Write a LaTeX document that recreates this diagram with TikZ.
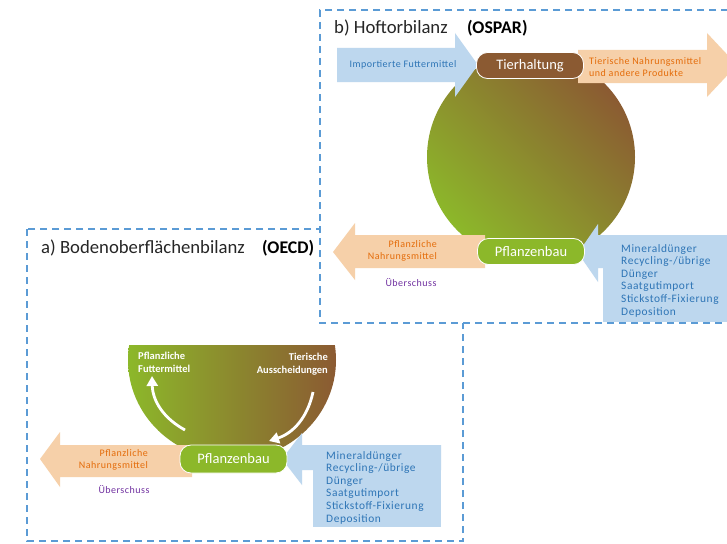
\documentclass[tikz,border=0pt]{standalone}
\usepackage{fontspec}
\setmainfont{Carlito}
\newfontfamily\spaced[LetterSpace=5]{Carlito}
\usetikzlibrary{arrows.meta}
\definecolor{grn}{HTML}{8CB82A}
\definecolor{brn}{HTML}{8B5A32}
\definecolor{lblue}{HTML}{BDD7EE}
\definecolor{peach}{HTML}{F6D0A9}
\definecolor{otext}{HTML}{E46C0A}
\definecolor{btext}{HTML}{2E75B6}
\definecolor{ptext}{HTML}{7030A0}
\definecolor{dashc}{HTML}{5B9BD5}
\tikzset{
  dashbox/.style={draw=dashc, line width=1.6pt, dash pattern=on 7pt off 5pt},
  pill/.style={rounded corners=11pt, draw=white, line width=0.8pt, minimum width=107pt, minimum height=26pt, text=white, font=\fontsize{14.5}{16}\selectfont, inner sep=0pt},
  ttl/.style={anchor=west, font=\fontsize{18.7}{21}\selectfont, text=black!85, inner sep=0pt},
  ttlb/.style={anchor=west, font=\bfseries\fontsize{17.8}{20}\selectfont, inner sep=0pt},
  arrtxt/.style={font=\spaced\fontsize{10}{12}\selectfont, text=otext, inner sep=0pt},
  listtxt/.style={anchor=north west, align=left, font=\spaced\fontsize{11.4}{12.6}\selectfont, text=btext, inner sep=0pt},
  bowltxt/.style={font=\bfseries\fontsize{10.5}{12.5}\selectfont, text=white, inner sep=0pt},
  curv/.style={draw=white, line width=2.8pt, -{Triangle[length=10pt,width=11pt]}},
  surplus/.style={font=\spaced\fontsize{10}{12}\selectfont, text=ptext, inner sep=0pt}
}
\begin{document}
\begin{tikzpicture}[x=1pt,y=-1pt]
\useasboundingbox[fill=white] (0,0) rectangle (727,543);

% ---------------- box a ----------------
\draw[dashbox] (27,229) rectangle (463,541);
\node[ttl] (ta) at (41,248) {a) Bodenoberflächenbilanz};
\node[ttlb] (tao) at (262,248) {(OECD)};

\begin{scope}
  \clip (120,345) rectangle (345,480);
  \shade[left color=grn, right color=brn] (232,360) ellipse[x radius=104, y radius=100];
\end{scope}

\node[bowltxt, anchor=north west, align=left] (pf) at (138,352) {Pflanzliche\\Futtermittel};
\node[bowltxt, anchor=north east, align=right] (ta2) at (328,353) {Tierische\\Ausscheidungen};

\coordinate (la1) at (185,430);
\coordinate (la2) at (152,376);
\coordinate (ra1) at (313,392);
\coordinate (ra2) at (269,441);
\draw[curv] (la1) to[bend left=30] (la2);
\draw[curv] (ra1) to[bend left=30] (ra2);

% orange arrow a
\fill[peach] (192,445) -- (60,445) -- (60,432) -- (40,459) -- (60,487) -- (60,477) -- (192,477) -- cycle;
\node[arrtxt, anchor=east, align=right] (pna) at (148,460) {Pflanzliche\\Nahrungsmittel};
\node[surplus] (ua) at (124,490) {Überschuss};

% blue arrow a
\fill[lblue] (441,445) -- (302,445) -- (302,433) -- (282,459) -- (302,485) -- (302,470) -- (441,470) -- cycle;
\fill[lblue] (313,445) rectangle (441,527);
\node[listtxt] (la) at (326,451) {Mineraldünger\\Recycling-/übrige\\Dünger\\Saatgutimport\\Stickstoff-Fixierung\\Deposition};

\node[pill, fill=grn, minimum height=28pt] (pba) at (233.5,459) {Pflanzenbau};

% ---------------- box b ----------------
\fill[white] (320,10) rectangle (740,323);
\draw[dashbox] (740,10) -- (320,10) -- (320,323) -- (740,323);
\node[ttl] (tb) at (334,28) {b) Hoftorbilanz};
\node[ttlb] (tbo) at (467,28) {(OSPAR)};

\shade[top color=brn, bottom color=grn, shading angle=-45] (531,157) circle[radius=104pt];

% blue import arrow
\fill[lblue] (337,48) -- (455,48) -- (455,33) -- (478,65) -- (455,97) -- (455,82) -- (337,82) -- cycle;
\node[arrtxt, text=btext] (imp) at (403,65) {Importierte Futtermittel};

% orange export arrow
\fill[peach] (578,50) -- (707,50) -- (707,33) -- (737,65) -- (707,97) -- (707,83) -- (578,83) -- cycle;
\node[arrtxt, anchor=west, align=left] (exp) at (589,67) {Tierische Nahrungsmittel\\und andere Produkte};

% orange left arrow b
\fill[peach] (485,235) -- (355,235) -- (355,223) -- (333,252) -- (355,280) -- (355,268) -- (485,268) -- cycle;
\node[arrtxt, anchor=east, align=right] (pnb) at (437,251) {Pflanzliche\\Nahrungsmittel};
\node[surplus] (ub) at (411,283) {Überschuss};

% blue right block b
\fill[lblue] (740,235) -- (598,235) -- (598,224) -- (578,253) -- (598,282) -- (598,268) -- (740,268) -- cycle;
\fill[lblue] (603,235) rectangle (740,322);
\node[listtxt] (lb) at (621,244) {Mineraldünger\\Recycling-/übrige\\Dünger\\Saatgutimport\\Stickstoff-Fixierung\\Deposition};

\node[pill, fill=brn] (th) at (530,65.5) {Tierhaltung};
\node[pill, fill=grn] (pbb) at (531,251.5) {Pflanzenbau};
\end{tikzpicture}
\end{document}
